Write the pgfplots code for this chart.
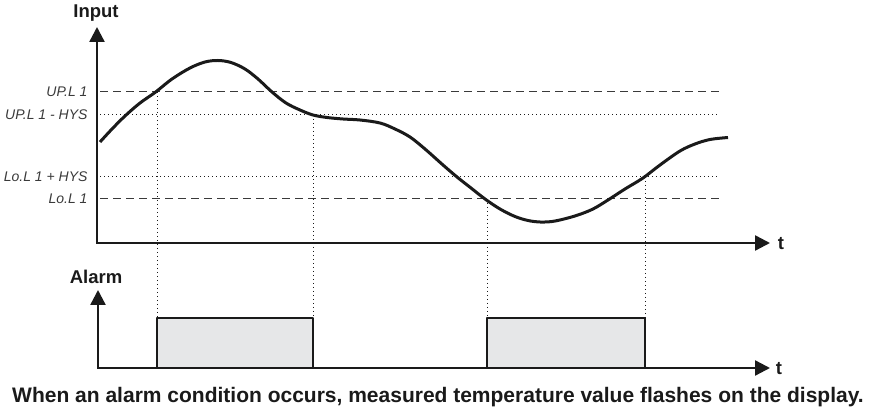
\documentclass[border=0pt]{standalone}
\usepackage{fontspec}
\setmainfont{Liberation Sans}
\usepackage{pgfplots}
\pgfplotsset{compat=1.18}
\usetikzlibrary{arrows.meta}
\definecolor{ink}{HTML}{1A1A1A}
\definecolor{lvl}{HTML}{3A3A3A}
\definecolor{boxfill}{HTML}{E6E7E8}

% input signal (pixel coordinates, y downwards)
\pgfplotstableread{
x y
100 142
112 129
125 116
140 103
155 92.5
172 79
190 68
205 62
218 60.5
231 62.5
245 69
258 79
272 92
286 103
300 110
313 115
327 117.5
343 119
360 120
380 123
395 129
410 137
425 149
443 165
457 177
471 188
485 199
500 209
515 216.5
528 220.5
540 222
552 221.5
564 219
578 215
593 209
608 200
625 189
643 178
660 165
680 151
695 144
710 139.5
728 137.5
}\inputsig

\begin{document}
\begin{tikzpicture}[
    lvllabel/.style={font=\fontsize{14}{14}\selectfont\itshape, text=lvl, anchor=east},
    hdr/.style={font=\fontsize{18.5}{18.5}\selectfont\bfseries, text=ink},
    axarrow/.style={ink, line width=2.4pt, -{Triangle[length=15pt,width=15pt]}},
    dashlvl/.style={lvl, line width=1pt, dash pattern=on 8pt off 5pt},
    dotlvl/.style={ink, line width=1pt, dash pattern=on 1pt off 3pt},
    alarmbox/.style={ink, line width=2pt, fill=boxfill},
]
\begin{axis}[
    width=876pt, height=419pt,
    scale only axis,
    xmin=0, xmax=876, ymin=0, ymax=419,
    y dir=reverse,
    axis lines=none,
    clip=false,
    every axis plot/.append style={line join=round},
]
% keep the whole canvas in the bounding box
\path (rel axis cs:0,0) rectangle (rel axis cs:1,1);

% threshold lines
\addplot[dashlvl] coordinates {(100,92) (722,92)};
\addplot[dotlvl] coordinates {(100,115) (720,115)};
\addplot[dotlvl] coordinates {(100,177) (720,177)};
\addplot[dashlvl] coordinates {(100,199) (722,199)};

% switching instants
\addplot[dotlvl] coordinates {(157,92) (157,318)};
\addplot[dotlvl] coordinates {(313,115) (313,318)};
\addplot[dotlvl] coordinates {(487,199) (487,318)};
\addplot[dotlvl] coordinates {(645,177) (645,318)};

% alarm output
\addplot[alarmbox] coordinates {(157,368) (157,318) (313,318) (313,368)} -- cycle;
\addplot[alarmbox] coordinates {(487,368) (487,318) (645,318) (645,368)} -- cycle;

% axes
\addplot[axarrow] coordinates {(97,243) (97,27)};
\addplot[axarrow] coordinates {(96,243) (770,243)};
\addplot[axarrow] coordinates {(98,368) (98,290)};
\addplot[axarrow] coordinates {(97,368) (770,368)};

% input curve
\addplot[ink, line width=3pt, smooth, tension=0.55] table {\inputsig};

\node[lvllabel] at (axis cs:91,92) {UP.L 1};
\node[lvllabel] at (axis cs:91,115) {UP.L 1 - HYS};
\node[lvllabel] at (axis cs:91,177) {Lo.L 1 + HYS};
\node[lvllabel] at (axis cs:91,199) {Lo.L 1};

\node[hdr] at (axis cs:96,13) {Input};
\node[hdr] at (axis cs:96,277) {Alarm};
\node[hdr] at (axis cs:781,244) {t};
\node[hdr] at (axis cs:779,369) {t};

\node[font=\fontsize{21}{21}\selectfont\bfseries, text=ink] at (axis cs:438,397)
  {When an alarm condition occurs, measured temperature value flashes on the display.};
\end{axis}
\end{tikzpicture}
\end{document}
